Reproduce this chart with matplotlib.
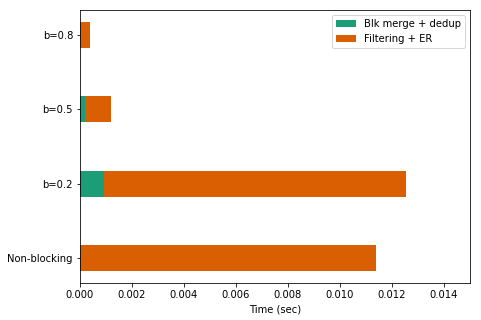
import matplotlib
matplotlib.use("Agg")
import matplotlib.pyplot as plt

categories = ["Non-blocking", "b=0.2", "b=0.5", "b=0.8"]
blk_merge = [0.0, 0.00092, 0.0002, 0.0]
filtering = [0.01137, 0.01161, 0.00099, 0.00038]

fig, ax = plt.subplots(figsize=(481 / 72, 320 / 72), dpi=72)
pos = list(range(len(categories)))
ax.barh(pos, blk_merge, height=0.35, color="#1b9e77", label="Blk merge + dedup")
ax.barh(pos, filtering, height=0.35, left=blk_merge, color="#d95f02", label="Filtering + ER")
ax.set_yticks(pos)
ax.set_yticklabels(categories)
ax.set_xlim(0, 0.015)
ax.set_xlabel("Time (sec)")
ax.legend(loc="upper right")

fig.subplots_adjust(left=80 / 481, right=470 / 481, top=1 - 10 / 320, bottom=1 - 283 / 320)
fig.savefig("out.png", dpi=72)
